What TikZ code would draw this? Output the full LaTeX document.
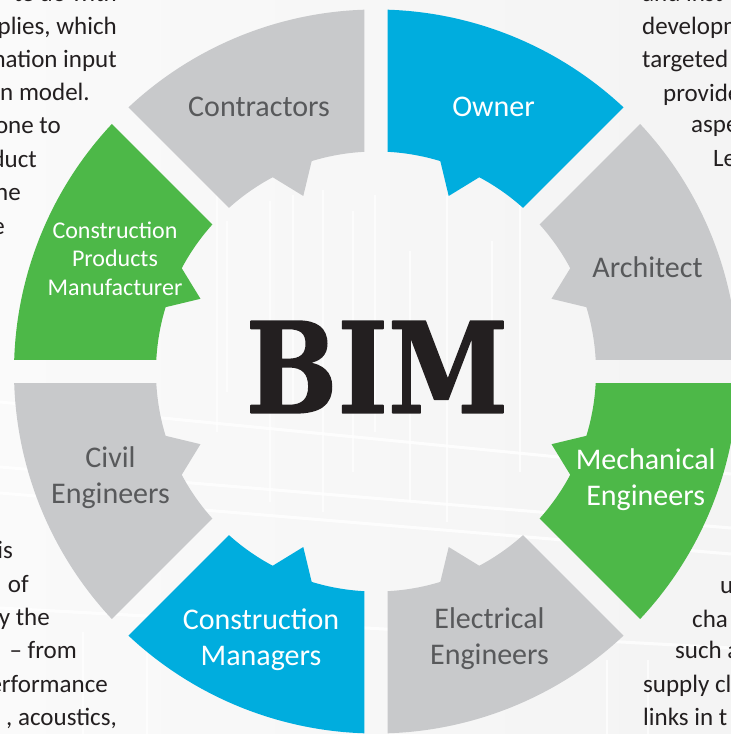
\documentclass[tikz,border=0pt]{standalone}
\usepackage{fontspec}
\setmainfont{Carlito}
\newfontfamily\bimfont{DejaVu Serif}[FakeStretch=0.86, FakeBold=1.2]
\definecolor{bimblue}{HTML}{00ADDE}
\definecolor{bimgreen}{HTML}{4DB848}
\definecolor{bimgrey}{HTML}{C8C9CB}
\definecolor{labgrey}{HTML}{58595B}
\definecolor{ink}{HTML}{231F20}
\begin{document}
\begin{tikzpicture}[x=1pt, y=1pt, line join=round,
	lab/.style={align=center, inner sep=0pt, font=\fontsize{30}{36}\selectfont},
	labw/.style={lab, text=white},
	labg/.style={lab, text=labgrey},
	body/.style={inner sep=0pt, text=ink, font=\fontsize{25}{30}\selectfont},
	bgline/.style={white, line width=3pt, opacity=0.8},
	bgthin/.style={white, line width=1.5pt, opacity=0.7}]
	\def\ro{362} \def\ri{220} \def\rt{190} % radii
	\def\g{11.75} \def\tw{5.5} % half gap, half tooth
	\pgfmathsetmacro{\dO}{asin(\g/\ro)}
	\pgfmathsetmacro{\dI}{asin(\g/\ri)}
	\useasboundingbox (-376,-362.5) rectangle (355,371.5);
	\clip (-376,-362.5) rectangle (355,371.5);
	\shade[left color=gray!4, right color=gray!9] (-376,-362.5) rectangle (355,371.5);
	% drawing in the background
	\draw[bgline] (-376,-30.5)--(355,-102.5);
	\draw[bgline] (-376,-95.5)--(355,-156.5);
	\draw[bgline] (-376,-121.5)--(355,-182.5);
	\draw[bgline] (-376,-236.5)--(355,-276.5);
	\foreach \x/\ya/\yb in {-159/176/-60, -149/150/-20, -106/170/-130, -83/176/-40, -53/181/-140,
		-23/160/-100, -1/176/-60, 34/120/-130, 71/176/-150, 116/130/-40, 144/170/-100,
		-293/-260/-362.5, -229/-260/-362.5, 231/-288/-362.5, 272/-288/-362.5}
		\draw[bgthin] (\x,\ya)--(\x,\yb);
	% text round the wheel
	\foreach \t/\x/\y [count=\i] in {te do with/-259/369.5, {plies, which}/-259/336.5,
		nation input/-259/303.5, n model./-286/270.5, one to/-315/237.5, duct/-339/203.5,
		he/-355/170.5, e/-371/137, is/-363/-186.5, of/-347/-220.5, y the/-326/-253.5,
		– from/-299/-286.5, erformance/-268/-320.5, {, acoustics,}/-259/-353.5}
		\node[body, anchor=base east] (tl\i) at (\x,\y) {\t};
	\foreach \t/\x/\y [count=\i] in {and inst/266/369.5, developm/266/336.5, targeted/266/303.5,
		provide/287/269.5, aspe/315/238.5, Le/337/204.5, u/344/-221.5, cha/316/-255.5,
		such a/299/-286.5, supply cl/267/-320.5, links in t/267/-353.5}
		\node[body, anchor=base west] (tr\i) at (\x,\y) {\t};
	% the eight segments
	\foreach \angS/\col in {90/bimblue, 45/bimgrey, 0/bimgreen, -45/bimgrey,
		-90/bimblue, -135/bimgrey, 180/bimgreen, 135/bimgrey}{
		\pgfmathsetmacro{\angE}{\angS-45}
		\pgfmathsetmacro{\angM}{\angS-22.5}
		\fill[\col] ({\angS-\dO}:\ro) arc[start angle={\angS-\dO}, end angle={\angE+\dO}, radius=\ro]
			-- ({\angE+\dI}:\ri) arc[start angle={\angE+\dI}, end angle={\angM-\tw}, radius=\ri]
			-- (\angM:\rt) -- ({\angM+\tw}:\ri)
			arc[start angle={\angM+\tw}, end angle={\angS-\dI}, radius=\ri] -- cycle;
	}
	\node[labw] (owner) at (117.5,264.5) {Owner};
	\node[labg] (architect) at (271.5,104.5) {Architect};
	\node[labw] (mech) at (269.7,-108.5) {Mechanical\\Engineers};
	\node[labg] (elec) at (113.5,-267.5) {Electrical\\Engineers};
	\node[labw] (cmgr) at (-115,-268.5) {Construction\\Managers};
	\node[labg] (civil) at (-265.5,-106.5) {Civil\\Engineers};
	\node[labw, font=\fontsize{24}{28.5}\selectfont] (cpm) at (-261,112.8) {Construction\\Products\\Manufacturer};
	\node[labg] (contr) at (-117,265) {Contractors};
	\node[inner sep=0pt, text=ink, font=\bimfont\bfseries\fontsize{126}{126}\selectfont] (bim) at (1,4.5) {BIM};
\end{tikzpicture}
\end{document}
